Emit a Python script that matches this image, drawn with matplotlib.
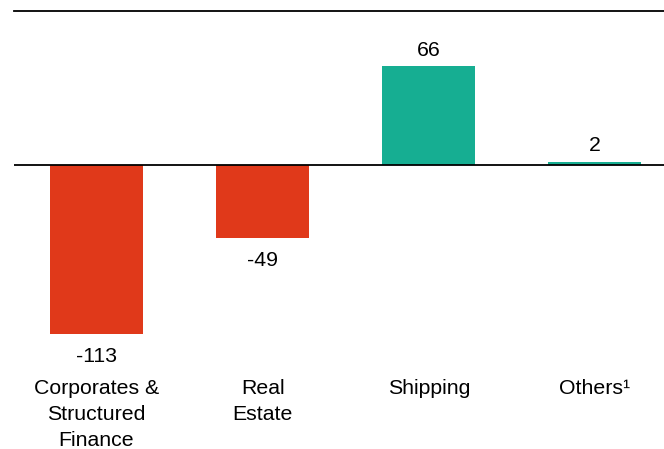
import numpy as np
import matplotlib.pyplot as plt

# dados
categorias = ["Corporates &\nStructured\nFinance", "Real\nEstate", "Shipping", "Others\u00b9"]
valores = [-113, -49, 66, 2]
rotulos = ["-113", "-49", "66", "2"]

vermelho = "#E0391A"
verde = "#16AE92"

plt.rcParams['font.family'] = ['Liberation Sans', 'DejaVu Sans']

fig = plt.figure(figsize=(6.64, 4.49), dpi=100)
# eixo: topo em 11 px, fundo na borda inferior
ax = fig.add_axes([14 / 664, 0, 1 - 14 / 664, 1 - 11 / 449])

x = np.arange(len(valores))
cores = [vermelho if v < 0 else verde for v in valores]
ax.bar(x, valores, width=0.56, color=cores, zorder=2)

ax.set_xlim(-0.497, 3.416)
ax.set_ylim(-189.8, 103)
ax.axhline(0, color="black", linewidth=1.3, zorder=3)

for s in ["left", "right", "bottom"]:
    ax.spines[s].set_visible(False)
ax.spines["top"].set_linewidth(1.3)
ax.set_xticks([])
ax.set_yticks([])

# rótulos de valor
for xi, v, r in zip(x, valores, rotulos):
    if v < 0:
        ax.text(xi, v - 8.5, r, ha="center", va="top", fontsize=15.3)
    else:
        ax.text(xi, v + 4.5, r, ha="center", va="bottom", fontsize=15.3)

# rótulos das categorias
for xi, c in zip(x, categorias):
    ax.text(xi, -143, c, ha="center", va="top", fontsize=15.3, linespacing=1.47)

fig.savefig("out.png", dpi=100)
